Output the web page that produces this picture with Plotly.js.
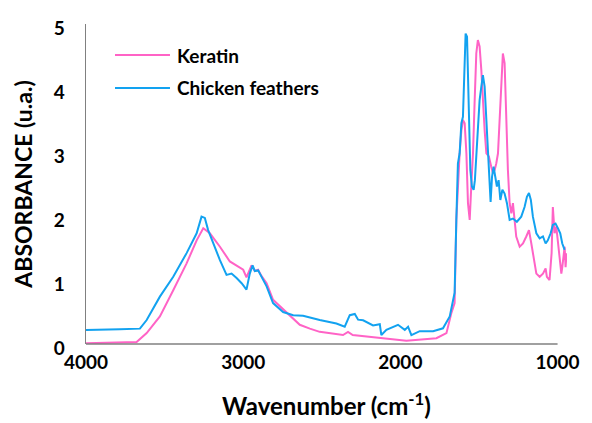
<!DOCTYPE html>
<html>
<head>
<meta charset="utf-8">
<script src="https://cdn.plot.ly/plotly-3.0.1.min.js"></script>
<style>html,body{margin:0;padding:0;background:#fff}#chart{width:592px;height:423px}</style>
</head>
<body>
<div id="chart"></div>
<script>
const seriesNames = ["Keratin", "Chicken feathers"];
const xTickValues = [4000, 3000, 2000, 1000];
const yTickValues = [0, 1, 2, 3, 4, 5];

const keratinWavenumber = [4000,3847,3678,3614,3530,3445,3360,3296,3254,3212,3148,3085,3021,3000,2979,2947,2926,2905,2883,2851,2810,2724,2640,2576,2513,2365,2333,2303,2131,1962,1771,1707,1676,1655,1644,1634,1623,1612,1602,1591,1580,1570,1559,1549,1538,1528,1517,1507,1496,1485,1475,1464,1453,1437,1422,1411,1400,1390,1379,1369,1358,1348,1337,1326,1316,1305,1294,1284,1273,1263,1241,1220,1199,1182,1167,1157,1135,1114,1093,1076,1068,1051,1038,1030,1019,1008,998,987,976,970,962,955,949,943];
const keratinAbsorbance = [0.01,0.02,0.03,0.17,0.43,0.84,1.26,1.62,1.81,1.73,1.52,1.29,1.20,1.16,1.04,1.23,1.14,1.16,1.06,0.95,0.69,0.50,0.30,0.24,0.19,0.14,0.19,0.14,0.09,0.05,0.09,0.17,0.48,0.64,1.94,2.56,2.98,3.34,3.50,3.45,2.98,2.20,1.94,2.46,2.98,3.76,4.54,4.75,4.65,4.28,3.76,3.34,2.98,2.93,2.77,2.67,2.72,2.82,2.98,3.50,4.12,4.54,4.39,3.50,2.72,2.20,2.04,2.20,1.94,1.68,1.52,1.57,1.68,1.78,1.57,1.42,1.10,1.05,1.10,1.18,1.05,1.00,1.42,2.14,1.73,1.83,1.62,1.42,1.10,1.20,1.42,1.52,1.20,1.42];

const feathersWavenumber = [4000,3911,3784,3657,3614,3530,3445,3360,3296,3265,3244,3223,3191,3148,3106,3074,3042,3010,2979,2958,2940,2926,2905,2883,2851,2810,2746,2682,2619,2513,2407,2354,2322,2290,2269,2237,2174,2131,2121,2089,2057,2015,1972,1951,1930,1877,1792,1729,1686,1655,1644,1634,1623,1612,1602,1591,1585,1576,1570,1564,1555,1545,1534,1526,1517,1507,1496,1485,1475,1464,1453,1443,1432,1426,1417,1407,1396,1386,1375,1364,1351,1337,1322,1305,1284,1259,1231,1210,1195,1182,1170,1157,1135,1114,1093,1076,1062,1044,1030,1013,998,983,970,955];
const feathersAbsorbance = [0.22,0.22,0.23,0.24,0.375,0.74,1.05,1.42,1.73,1.99,1.97,1.78,1.57,1.31,1.08,1.10,1.03,0.95,0.85,1.10,1.23,1.14,1.15,1.04,0.90,0.64,0.50,0.45,0.44,0.375,0.32,0.27,0.45,0.47,0.38,0.37,0.29,0.31,0.14,0.22,0.25,0.30,0.22,0.27,0.14,0.20,0.20,0.245,0.43,0.80,1.94,2.82,2.98,3.45,3.55,4.54,4.85,4.80,4.28,3.50,2.72,2.46,2.41,2.56,2.98,3.45,3.81,4.02,4.20,4.02,3.50,2.98,2.46,2.22,2.61,2.77,2.61,2.46,2.56,2.25,2.41,2.35,2.20,1.94,1.96,1.91,1.99,2.14,2.30,2.36,2.25,1.99,1.73,1.65,1.68,1.57,1.62,1.73,1.86,1.88,1.81,1.73,1.57,1.47];

const pink = '#ff63c6';
const blue = '#12a2f0';
const axisGray = '#808080';
const fontFam = 'Lato, "Open Sans", sans-serif';

const traces = [
  {x: keratinWavenumber, y: keratinAbsorbance, name: seriesNames[0], type: 'scatter', mode: 'lines',
   line: {color: pink, width: 2}},
  {x: feathersWavenumber, y: feathersAbsorbance, name: seriesNames[1], type: 'scatter', mode: 'lines',
   line: {color: blue, width: 2}}
];

const layout = {
  width: 592, height: 423,
  margin: {l: 86, r: 25, t: 24, b: 79},
  paper_bgcolor: '#fff', plot_bgcolor: '#fff',
  showlegend: false,
  font: {family: fontFam, color: '#000'},
  xaxis: {
    range: [4000, 940], autorange: false,
    tickvals: xTickValues, ticktext: xTickValues.map(String),
    showgrid: false, zeroline: false, showline: false, ticks: '',
    tickfont: {size: 19, family: fontFam, weight: 'bold'},
    ticklabelstandoff: 5,
    title: {text: 'Wavenumber (cm<sup>-1</sup>)', font: {size: 24, family: fontFam, weight: 'bold'}, standoff: 26}
  },
  yaxis: {
    range: [0, 5], autorange: false,
    tickvals: yTickValues, ticktext: yTickValues.map(String),
    showgrid: false, zeroline: false, showline: true, linecolor: axisGray, linewidth: 1.5, ticks: '',
    tickfont: {size: 19, family: fontFam, weight: 'bold'},
    ticklabelstandoff: 16, ticklabelshift: 4,
    title: {text: 'ABSORBANCE (u.a.)', font: {size: 23, family: fontFam, weight: 'bold'}, standoff: 14}
  },
  shapes: [
    {type: 'line', xref: 'x', yref: 'paper', x0: xTickValues[0], x1: xTickValues[xTickValues.length - 1], y0: 0, y1: 0,
     line: {color: axisGray, width: 1.5}},
    {type: 'line', xref: 'paper', yref: 'paper', x0: 0.0603, x1: 0.1746, y0: 0.903, y1: 0.903,
     line: {color: pink, width: 2}},
    {type: 'line', xref: 'paper', yref: 'paper', x0: 0.0603, x1: 0.1746, y0: 0.8, y1: 0.8,
     line: {color: blue, width: 2}}
  ],
  annotations: [
    {xref: 'paper', yref: 'paper', x: 0.185, y: 0.903, xanchor: 'left', yanchor: 'middle', showarrow: false,
     text: seriesNames[0], font: {size: 19, family: fontFam, weight: 'bold', color: '#000'}},
    {xref: 'paper', yref: 'paper', x: 0.185, y: 0.8, xanchor: 'left', yanchor: 'middle', showarrow: false,
     text: seriesNames[1], font: {size: 19, family: fontFam, weight: 'bold', color: '#000'}}
  ]
};

Plotly.newPlot('chart', traces, layout, {displayModeBar: false, staticPlot: true});
</script>
</body>
</html>
